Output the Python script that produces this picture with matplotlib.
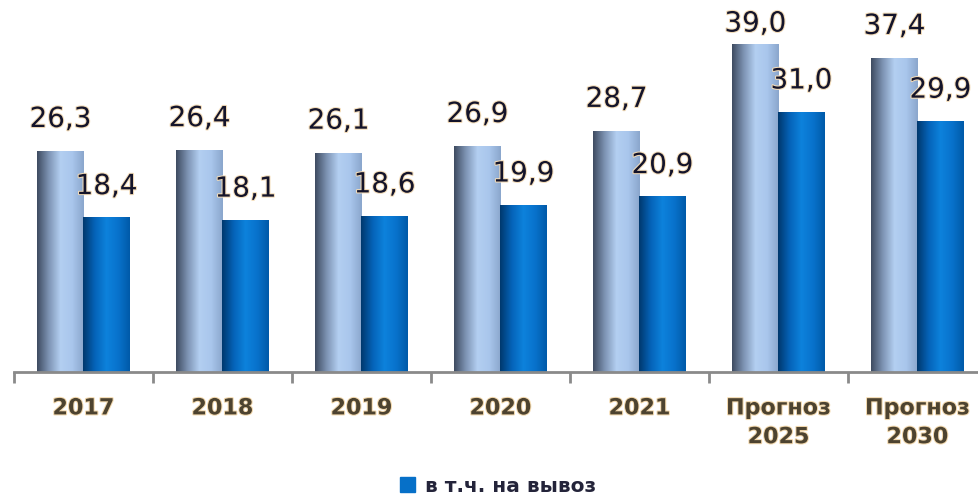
import numpy as np
import matplotlib.pyplot as plt
import matplotlib.patheffects as pe
from matplotlib.patches import Patch
from matplotlib.colors import LinearSegmentedColormap

categories = ["2017", "2018", "2019", "2020", "2021", "Прогноз\n2025", "Прогноз\n2030"]
total = [26.3, 26.4, 26.1, 26.9, 28.7, 39.0, 37.4]
export = [18.4, 18.1, 18.6, 19.9, 20.9, 31.0, 29.9]
legend_label = "в т.ч. на вывоз"

fig = plt.figure(figsize=(9.79, 5.02), dpi=100)
# ось чуть выходит за правый край, как на исходнике
ax = fig.add_axes([14 / 979, 129 / 502, 973 / 979, 373 / 502])
ymax = 373 / 8.385

x = np.arange(len(categories))
w = 0.331

light_cmap = LinearSegmentedColormap.from_list(
    "light", ["#3e4b60", "#7d93b3", "#b3cff1", "#a9c6ec", "#8aa6cc"])
dark_cmap = LinearSegmentedColormap.from_list(
    "dark", ["#00386d", "#0563b8", "#0d82dc", "#0872cc", "#005aa8"])
grad = np.linspace(0, 1, 256).reshape(1, -1)

bars1 = ax.bar(x - w / 2, total, w, color="#a9c6ec")
bars2 = ax.bar(x + w / 2, export, w, color="#0872cc")

# градиентная заливка столбиков
for bars, cmap in [(bars1, light_cmap), (bars2, dark_cmap)]:
    for b in bars:
        x0, bw, h = b.get_x(), b.get_width(), b.get_height()
        ax.imshow(grad, extent=[x0, x0 + bw, 0, h], aspect="auto",
                  cmap=cmap, zorder=2, interpolation="bilinear")
        b.set_visible(False)

glow = [pe.withStroke(linewidth=1.5, foreground="#f3dcb8")]
for i in range(len(categories)):
    # подпись не должна вылезать за верх картинки
    y1 = min(total[i] + 2.2, ymax - 4.6)
    ax.text(x[i] - w / 2, y1, f"{total[i]:.1f}".replace(".", ","),
            ha="center", va="bottom", fontsize=20, color="#14142a", path_effects=glow)
    ax.text(x[i] + w / 2, export[i] + 2.1, f"{export[i]:.1f}".replace(".", ","),
            ha="center", va="bottom", fontsize=20, color="#14142a", path_effects=glow)

ax.set_xlim(-0.5, len(categories) - 0.5)
ax.set_ylim(0, ymax)

for s in ["top", "right", "left"]:
    ax.spines[s].set_visible(False)
ax.spines["bottom"].set_color("#8a8a8a")
ax.spines["bottom"].set_linewidth(2)
ax.set_yticks([])

ax.set_xticks(x)
ax.set_xticklabels(categories, fontsize=16, fontweight="bold", color="#4d4330",
                   linespacing=1.55)
for t in ax.get_xticklabels():
    t.set_path_effects([pe.withStroke(linewidth=1.5, foreground="#f3d9ae")])
ax.tick_params(axis="x", which="major", length=0, pad=19)
ax.set_xticks(np.arange(-0.5, len(categories), 1), minor=True)
ax.tick_params(axis="x", which="minor", length=8, width=2, color="#8a8a8a")

fig.legend(handles=[Patch(color="#0670c8")], labels=[legend_label],
           loc="center", bbox_to_anchor=(498 / 979, 1 - 487 / 502), frameon=False,
           handlelength=0.75, handleheight=0.75, handletextpad=0.5,
           prop={"size": 14.5, "weight": "bold"}, labelcolor="#24243a")

fig.savefig("out.png", dpi=100)
